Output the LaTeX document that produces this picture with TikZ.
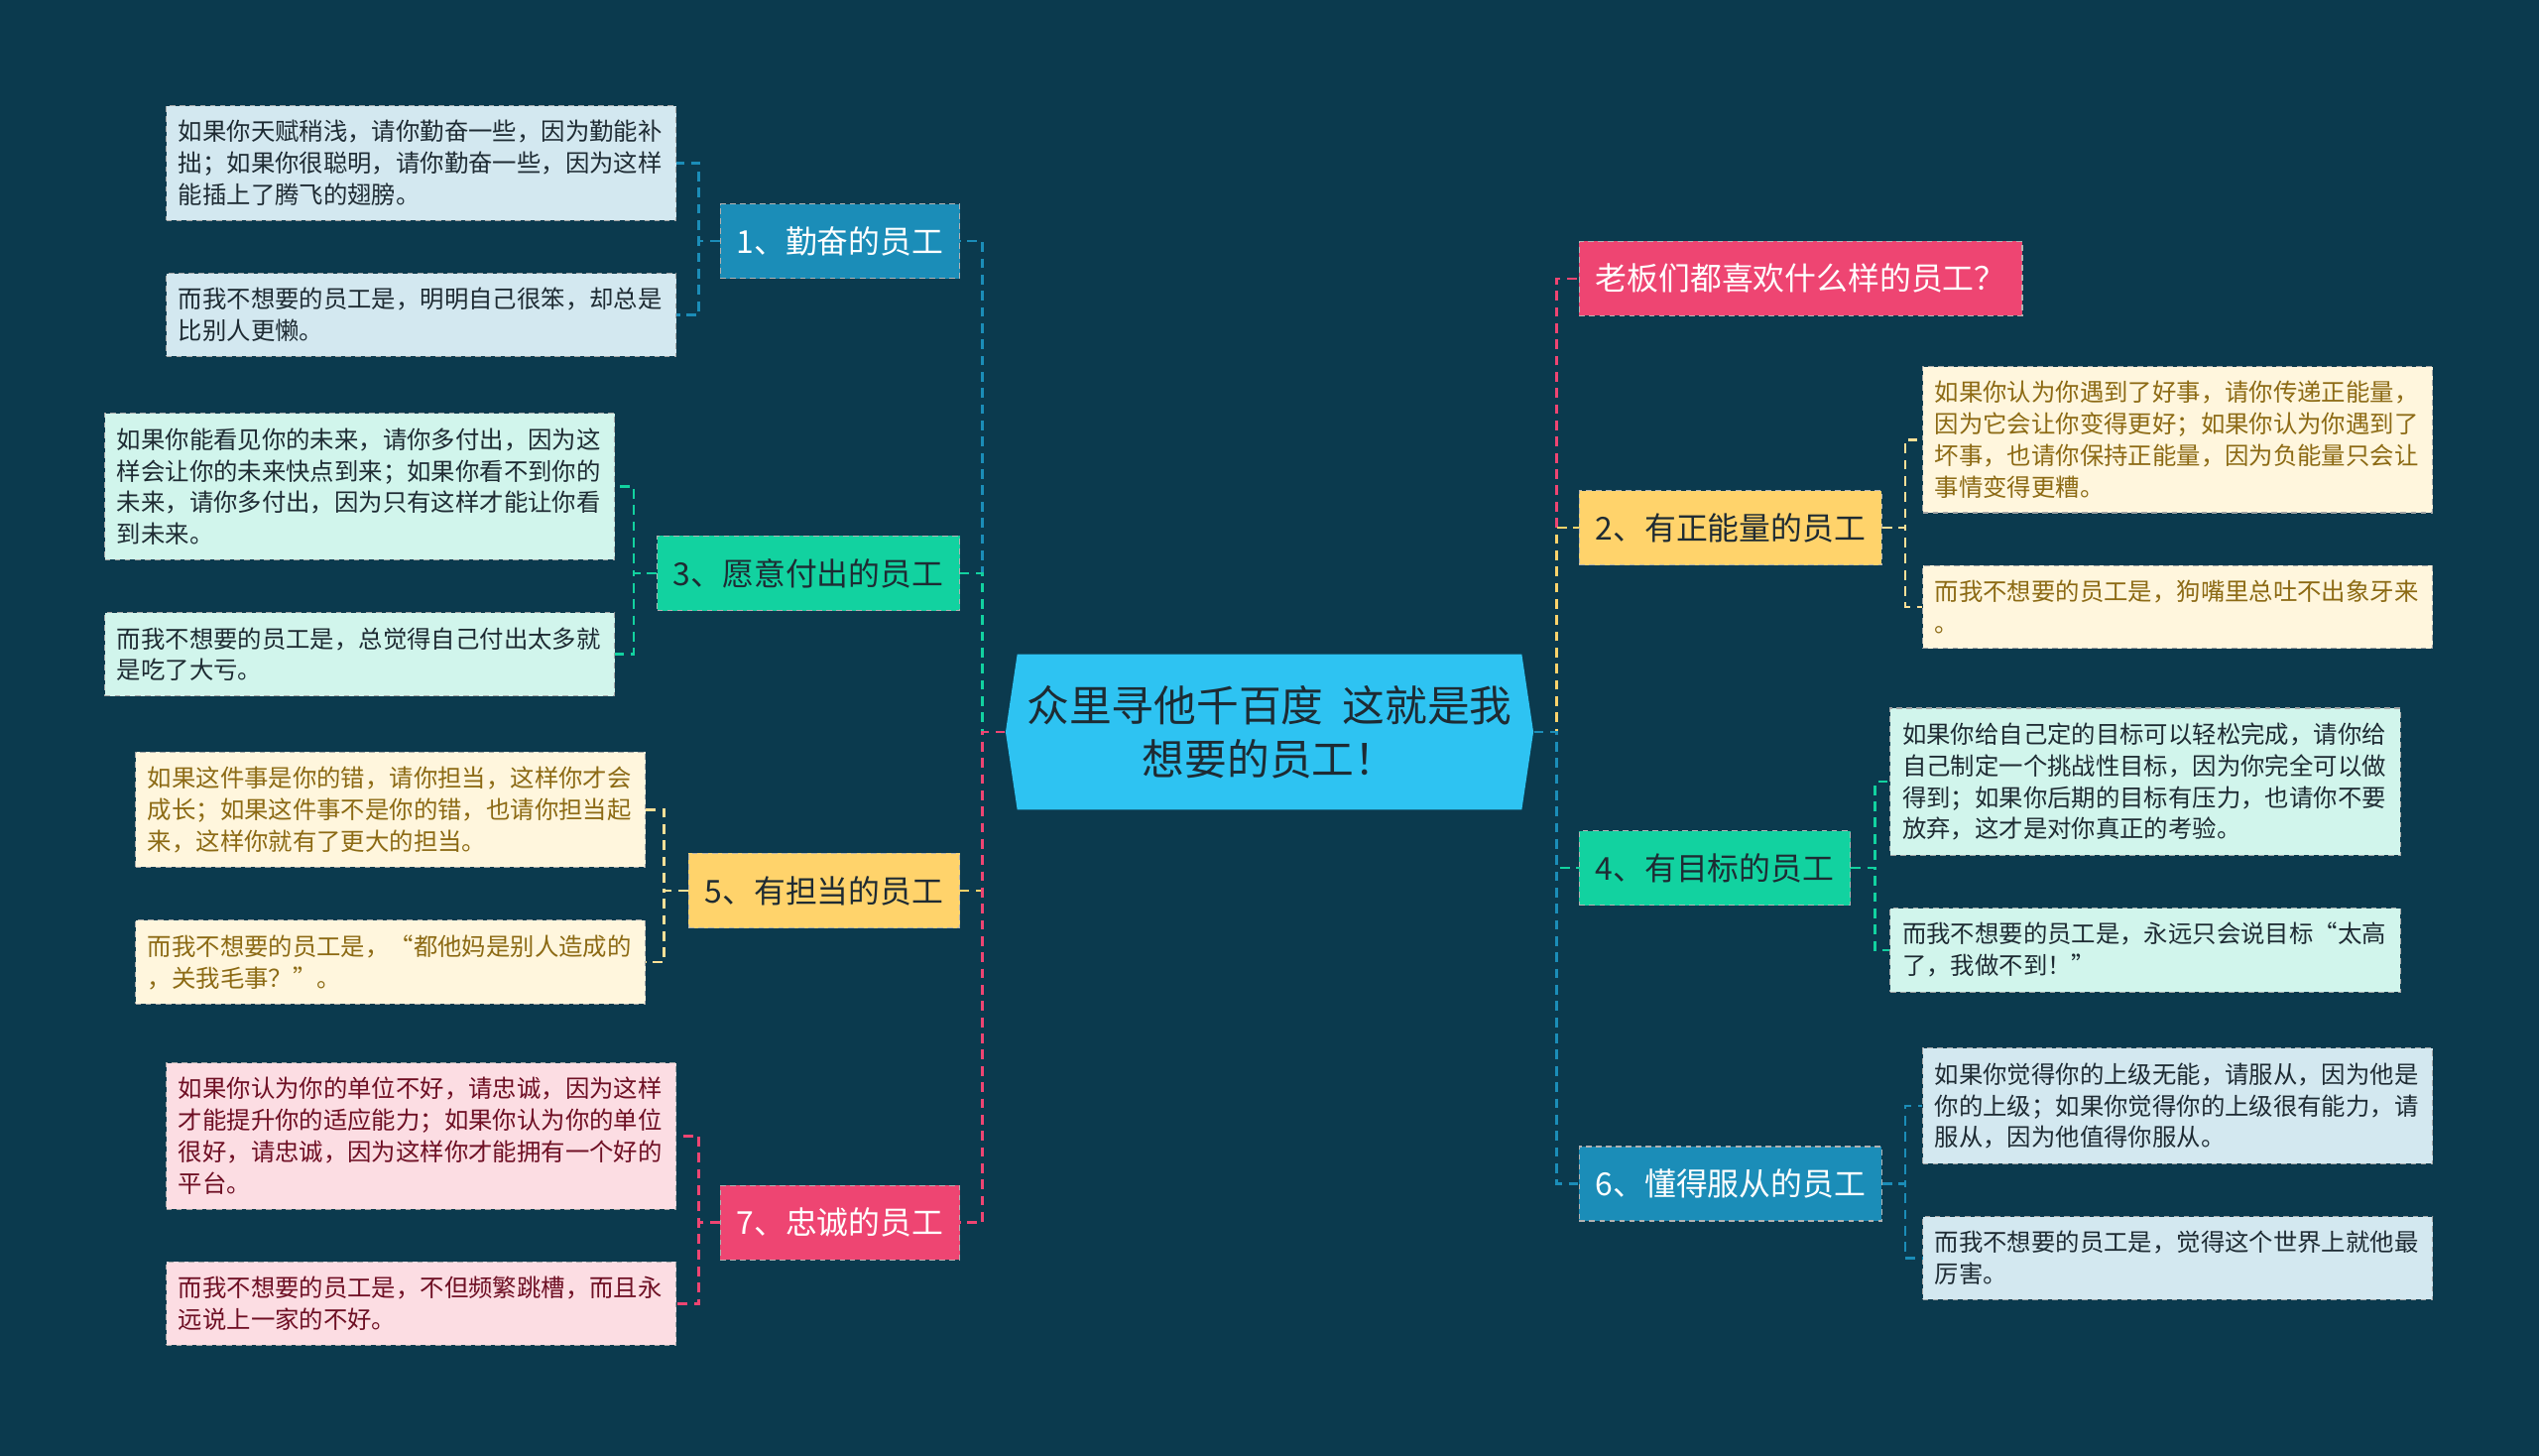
\documentclass[tikz,border=0pt]{standalone}
\usepackage{fontspec}
\setmainfont{Noto Sans CJK SC}
\usetikzlibrary{positioning,shapes.symbols}
\definecolor{bgc}{HTML}{0B3A4E}
\definecolor{cmain}{HTML}{2EC3F2}
\definecolor{cblue}{HTML}{1B8DB8}
\definecolor{cgreen}{HTML}{12D2A0}
\definecolor{cyellow}{HTML}{FFD36B}
\definecolor{cpink}{HTML}{EE4572}
\definecolor{lblue}{HTML}{D3E8F0}
\definecolor{lgreen}{HTML}{D1F5EC}
\definecolor{lyellow}{HTML}{FFF6DD}
\definecolor{lpink}{HTML}{FCDDE3}
\definecolor{tdark}{HTML}{1E2B33}
\definecolor{tbrown}{HTML}{8C6A14}
\definecolor{tred}{HTML}{6E0F24}

\begin{document}
\begin{tikzpicture}[x=0.02cm,y=-0.02cm,node distance=0.64cm]
  \tikzstyle{leaf}=[draw=black!35,dash pattern=on 2pt off 1.5pt,line width=0.4pt,text width=6cm,align=left,inner xsep=0.15cm,inner ysep=0.18cm,font=\fontsize{8.5pt}{11.1pt}\selectfont]
  \tikzstyle{branch}=[draw=black!30,dash pattern=on 2pt off 1.5pt,line width=0.4pt,minimum height=0.92cm,inner xsep=0.2cm,font=\fontsize{11.1pt}{13pt}\selectfont]
  \tikzstyle{link}=[dash pattern=on 3.4pt off 2.3pt,line width=0.85pt]
  \tikzstyle{leafblue}=[leaf,fill=lblue,text=tdark]
  \tikzstyle{leafgreen}=[leaf,fill=lgreen,text=tdark]
  \tikzstyle{leafyellow}=[leaf,fill=lyellow,text=tbrown]
  \tikzstyle{leafpink}=[leaf,fill=lpink,text=tred]
  \fill[bgc] (0,0) rectangle (1568,899);
  \node[signal,signal to=west and east,signal pointer angle=163,fill=cmain,text=tdark,minimum width=6.52cm,minimum height=1.92cm,inner sep=0pt,align=center,font=\fontsize{14.9pt}{18.8pt}\selectfont] (center) at (784,452) {众里寻他千百度~~这就是我\\想要的员工！};
  \node[branch,fill=cblue,text=white,anchor=east] (b1) at (593,149) {1、勤奋的员工};
  \node[branch,fill=cgreen,text=tdark,anchor=east] (b3) at (593,354) {3、愿意付出的员工};
  \node[branch,fill=cyellow,text=tdark,anchor=east] (b5) at (593,550) {5、有担当的员工};
  \node[branch,fill=cpink,text=white,anchor=east] (b7) at (593,755) {7、忠诚的员工};
  \node[branch,fill=cpink,text=white,anchor=west] (b0) at (975,172) {老板们都喜欢什么样的员工？};
  \node[branch,fill=cyellow,text=tdark,anchor=west] (b2) at (975,326) {2、有正能量的员工};
  \node[branch,fill=cgreen,text=tdark,anchor=west] (b4) at (975,536) {4、有目标的员工};
  \node[branch,fill=cblue,text=white,anchor=west] (b6) at (975,731) {6、懂得服从的员工};
  \node[leafblue,anchor=north east] (l1a) at (418,65) {如果你天赋稍浅，请你勤奋一些，因为勤能补\\拙；如果你很聪明，请你勤奋一些，因为这样\\能插上了腾飞的翅膀。};
  \node[leafblue,below=of l1a] (l1b) {而我不想要的员工是，明明自己很笨，却总是\\比别人更懒。};
  \node[leafgreen,anchor=north east] (l3a) at (380,255) {如果你能看见你的未来，请你多付出，因为这\\样会让你的未来快点到来；如果你看不到你的\\未来，请你多付出，因为只有这样才能让你看\\到未来。};
  \node[leafgreen,below=of l3a] (l3b) {而我不想要的员工是，总觉得自己付出太多就\\是吃了大亏。};
  \node[leafyellow,anchor=north east] (l5a) at (399,464) {如果这件事是你的错，请你担当，这样你才会\\成长；如果这件事不是你的错，也请你担当起\\来，这样你就有了更大的担当。};
  \node[leafyellow,below=of l5a] (l5b) {而我不想要的员工是，“都他妈是别人造成的\\，关我毛事？”。};
  \node[leafpink,anchor=north east] (l7a) at (418,656) {如果你认为你的单位不好，请忠诚，因为这样\\才能提升你的适应能力；如果你认为你的单位\\很好，请忠诚，因为这样你才能拥有一个好的\\平台。};
  \node[leafpink,below=of l7a] (l7b) {而我不想要的员工是，不但频繁跳槽，而且永\\远说上一家的不好。};
  \node[leafyellow,anchor=north west] (l2a) at (1187,226) {如果你认为你遇到了好事，请你传递正能量，\\因为它会让你变得更好；如果你认为你遇到了\\坏事，也请你保持正能量，因为负能量只会让\\事情变得更糟。};
  \node[leafyellow,below=of l2a] (l2b) {而我不想要的员工是，狗嘴里总吐不出象牙来\\。};
  \node[leafgreen,anchor=north west] (l4a) at (1167,437) {如果你给自己定的目标可以轻松完成，请你给\\自己制定一个挑战性目标，因为你完全可以做\\得到；如果你后期的目标有压力，也请你不要\\放弃，这才是对你真正的考验。};
  \node[leafgreen,below=of l4a] (l4b) {而我不想要的员工是，永远只会说目标“太高\\了，我做不到！”};
  \node[leafblue,anchor=north west] (l6a) at (1187,647) {如果你觉得你的上级无能，请服从，因为他是\\你的上级；如果你觉得你的上级很有能力，请\\服从，因为他值得你服从。};
  \node[leafblue,below=of l6a] (l6b) {而我不想要的员工是，觉得这个世界上就他最\\厉害。};
  \draw[link,cblue] (center.west) -- ++(-14,0) |- (b1.east);
  \draw[link,cgreen] (center.west) -- ++(-14,0) |- (b3.east);
  \draw[link,cyellow] (center.west) -- ++(-14,0) |- (b5.east);
  \draw[link,cpink] (center.west) -- ++(-14,0) |- (b7.east);
  \draw[link,cpink] (center.east) -- ++(14,0) |- (b0.west);
  \draw[link,cyellow] (center.east) -- ++(14,0) |- (b2.west);
  \draw[link,cgreen] (center.east) -- ++(14,0) |- (b4.west);
  \draw[link,cblue] (center.east) -- ++(14,0) |- (b6.west);
  \draw[link,cblue] (b1.west) -- ++(-13,0) |- (l1a.east);
  \draw[link,cblue] (b1.west) -- ++(-13,0) |- (l1b.east);
  \draw[link,cgreen] (b3.west) -- ++(-14,0) |- (l3a.east);
  \draw[link,cgreen] (b3.west) -- ++(-14,0) |- (l3b.east);
  \draw[link,cyellow!70!white] (b5.west) -- ++(-15,0) |- (l5a.east);
  \draw[link,cyellow!70!white] (b5.west) -- ++(-15,0) |- (l5b.east);
  \draw[link,cpink] (b7.west) -- ++(-13,0) |- (l7a.east);
  \draw[link,cpink] (b7.west) -- ++(-13,0) |- (l7b.east);
  \draw[link,cyellow!70!white] (b2.east) -- ++(14,0) |- (l2a.west);
  \draw[link,cyellow!70!white] (b2.east) -- ++(14,0) |- (l2b.west);
  \draw[link,cgreen] (b4.east) -- ++(15,0) |- (l4a.west);
  \draw[link,cgreen] (b4.east) -- ++(15,0) |- (l4b.west);
  \draw[link,cblue] (b6.east) -- ++(14,0) |- (l6a.west);
  \draw[link,cblue] (b6.east) -- ++(14,0) |- (l6b.west);
\end{tikzpicture}
\end{document}
